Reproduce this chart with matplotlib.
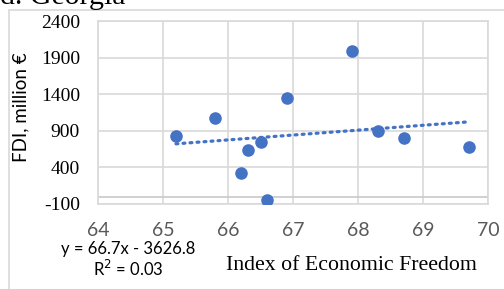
import numpy as np
import matplotlib
matplotlib.use("Agg")
import matplotlib.pyplot as plt
from matplotlib.patches import Rectangle

plt.rcParams["axes.unicode_minus"] = False

# index of economic freedom vs FDI, Georgia
freedom = [65.2, 65.8, 66.3, 66.5, 66.2, 66.6, 67.9, 66.9, 68.3, 68.7, 69.7]
fdi = [829, 1074, 643, 742, 320, -39, 1991, 1351, 901, 802, 679]
trend_slope = 66.7
trend_icept = -3626.8
trend_r2 = 0.03
xticks = [64, 65, 66, 67, 68, 69, 70]
yticks = [-100, 400, 900, 1400, 1900, 2400]

W, H = 504, 289
fig = plt.figure(figsize=(W / 100, H / 100), dpi=100)
ax = fig.add_axes([98 / W, 1 - 204 / H, (488 - 98) / W, (204 - 21) / H])

grid_c = "#d9d9d9"
blue = "#4472C4"

ax.set_xlim(64, 70)
ax.set_ylim(-100, 2400)
ax.set_xticks(xticks)
ax.set_yticks(yticks)
ax.grid(True, color=grid_c, linewidth=1.2)
ax.set_axisbelow(True)
ax.axhline(0, color="#c8c8c8", linewidth=1.2, zorder=1)
for s in ax.spines.values():
    s.set_color(grid_c)
    s.set_linewidth(1.2)
ax.tick_params(length=0)
ax.tick_params(axis="x", pad=13, labelsize=14, labelcolor="#595959")
ax.tick_params(axis="y", pad=13)
for lab in ax.get_xticklabels():
    lab.set_fontfamily("Lato")
for lab in ax.get_yticklabels():
    lab.set_fontfamily("Liberation Serif")
    lab.set_fontsize(14)

# trendline
tx = np.array([min(freedom), max(freedom)])
ax.plot(tx, trend_slope * tx + trend_icept, color=blue, linewidth=2.3,
        linestyle=(0, (0.6, 1.6)), dash_capstyle="round", zorder=2)
ax.scatter(freedom, fdi, s=82, color=blue, zorder=3, linewidths=0)

fig.text(21 / W, 1 - 107 / H, "FDI, million €", rotation=90, ha="center",
         va="center", fontsize=13.5, family="Lato")
fig.text(351 / W, 1 - 265 / H, "Index of Economic Freedom", ha="center",
         va="center", fontsize=15.7, family="Liberation Serif")
fig.text(128 / W, 1 - 249 / H, "y = %.1fx - %.1f" % (trend_slope, -trend_icept),
         ha="center", va="center", fontsize=12, family="Lato")
fig.text(128 / W, 1 - 269 / H, "R$^2$ = %.2f" % trend_r2,
         ha="center", va="center", fontsize=12, family="Lato")
fig.text(0, 1 - 4 / H, "d. Georgia", ha="left", va="baseline",
         fontsize=21.5, family="Liberation Serif")

fig.patches.append(Rectangle((9 / W, -0.1), 1.2, 1 - 10 / H + 0.1,
                             transform=fig.transFigure, fill=False,
                             edgecolor=grid_c, linewidth=1.2))

fig.savefig("out.png", dpi=100)
